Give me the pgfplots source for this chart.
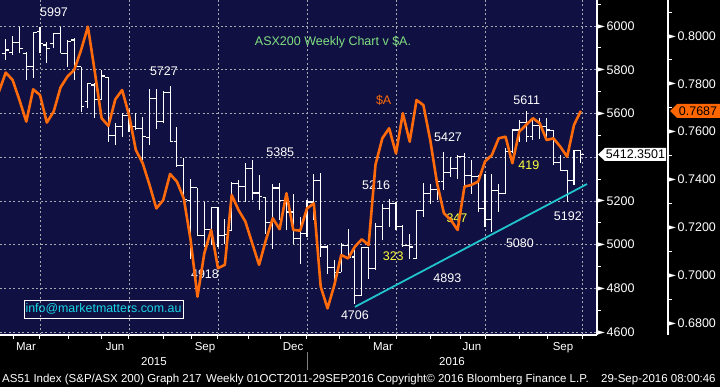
\documentclass[border=0pt]{standalone}
\usepackage{pgfplots}
\usepackage{pgfplotstable}
\usepackage{graphicx}
\pgfplotsset{compat=1.18}
\usepackage{fontspec}
\setmainfont{Liberation Sans}
\newfontfamily\dejavu{DejaVu Sans}
\definecolor{navybg}{HTML}{101042}
\definecolor{gridgray}{HTML}{A8A8B0}
\definecolor{audorange}{HTML}{FF6A0A}
\definecolor{trendcyan}{HTML}{20C4CC}
\definecolor{titlegreen}{HTML}{80E080}
\definecolor{labyellow}{HTML}{FFFF3C}
\definecolor{emailcyan}{HTML}{18D8E8}
\definecolor{orangebox}{HTML}{FF6600}
\pgfkeys{/pgf/number format/assume math mode=true}
\pgfdeclareplotmark{ohlcopen}{\pgfpathmoveto{\pgfqpoint{-3.4pt}{0pt}}\pgfpathlineto{\pgfqpoint{0pt}{0pt}}\pgfusepathqstroke}
\pgfdeclareplotmark{ohlcclose}{\pgfpathmoveto{\pgfqpoint{0pt}{0pt}}\pgfpathlineto{\pgfqpoint{3.4pt}{0pt}}\pgfusepathqstroke}
\newcommand{\tri}{\raisebox{2.2pt}{\scalebox{1.3}[0.75]{\dejavu\fontsize{8}{8}\selectfont ▶}}}
\pgfplotstableread{
k O H L C
0 5844 5890 5798 5882
1 5875 5939 5844 5890
2 5878 5954 5867 5924
3 5924 5997 5875 5898
4 5875 5882 5753 5814
5 5814 5974 5760 5969
6 5974 5997 5875 5920
7 5913 5928 5829 5898
8 5920 5966 5898 5966
9 5966 5997 5875 5875
10 5875 5936 5814 5928
11 5936 5943 5753 5814
12 5814 5814 5607 5630
13 5653 5737 5623 5737
14 5730 5737 5577 5664
15 5664 5798 5661 5771
16 5765 5768 5470 5501
17 5501 5554 5455 5542
18 5542 5600 5493 5592
19 5592 5615 5516 5539
20 5539 5600 5524 5531
21 5531 5585 5386 5493
22 5490 5714 5455 5669
23 5669 5714 5531 5562
24 5562 5704 5554 5695
25 5695 5727 5470 5470
26 5470 5539 5356 5360
27 5360 5394 5203 5207
28 5203 5302 4936 5261
29 5261 5261 5042 5042
30 5042 5195 4989 5068
31 5068 5172 4997 5169
32 5169 5172 4989 5042
33 5042 5119 5004 5045
34 5065 5287 5060 5279
35 5279 5294 5195 5264
36 5264 5371 5195 5348
37 5348 5386 5203 5236
38 5236 5317 5157 5218
39 5215 5218 5050 5099
40 5099 5279 4981 5259
41 5259 5282 5111 5203
42 5203 5241 5065 5149
43 5149 5233 5004 5027
44 5027 5127 4913 5050
45 5050 5203 5035 5195
46 5195 5325 5111 5294
47 5294 5328 4943 4989
48 4989 4997 4867 4897
49 4897 4928 4806 4874
50 4874 5007 4874 4997
51 4997 5073 4936 4943
52 4943 4981 4730 4768
53 4768 4989 4768 4986
54 4986 4989 4844 4890
55 4890 5099 4885 5084
56 5084 5185 5020 5165
57 5165 5210 5081 5188
58 5188 5195 5065 5081
59 5081 5088 4989 4997
60 4997 5050 4936 4989
61 4936 5157 4936 5154
62 5154 5282 5126 5233
63 5233 5279 5187 5253
64 5253 5294 5203 5287
65 5287 5424 5249 5328
66 5328 5401 5310 5348
67 5348 5409 5302 5401
68 5401 5417 5256 5317
69 5317 5389 5233 5313
70 5313 5317 5149 5165
71 5165 5325 5081 5116
72 5116 5325 5058 5249
73 5249 5279 5149 5233
74 5233 5440 5233 5424
75 5424 5531 5417 5524
76 5524 5569 5470 5557
77 5557 5611 5470 5496
78 5496 5577 5478 5546
79 5546 5577 5485 5539
80 5539 5577 5493 5524
81 5520 5524 5363 5374
82 5374 5409 5340 5340
83 5340 5340 5195 5294
84 5294 5432 5272 5429
85 5429 5432 5374 5412.35
}\asx
\pgfplotstableread{
k A
0 0.7767
1 0.7847
2 0.7816
3 0.7732
4 0.7642
5 0.7777
6 0.7753
7 0.7638
8 0.7684
9 0.7785
10 0.7830
11 0.7858
12 0.7941
13 0.8039
14 0.7851
15 0.7656
16 0.7624
17 0.7735
18 0.7774
19 0.7670
20 0.7523
21 0.7468
22 0.7377
23 0.7279
24 0.7314
25 0.7423
26 0.7391
27 0.7321
28 0.7147
29 0.6910
30 0.7091
31 0.7189
32 0.7029
33 0.7043
34 0.7335
35 0.7272
36 0.7224
37 0.7133
38 0.7043
39 0.7147
40 0.7238
41 0.7192
42 0.7342
43 0.7189
44 0.7186
45 0.7279
46 0.7300
47 0.6952
48 0.6861
49 0.6959
50 0.7084
51 0.7070
52 0.7119
53 0.7150
54 0.7126
55 0.7461
56 0.7572
57 0.7614
58 0.7509
59 0.7677
60 0.7558
61 0.7732
62 0.7711
63 0.7565
64 0.7384
65 0.7259
66 0.7231
67 0.7189
68 0.7370
69 0.7377
70 0.7391
71 0.7475
72 0.7502
73 0.7572
74 0.7579
75 0.7468
76 0.7600
77 0.7628
78 0.7656
79 0.7635
80 0.7565
81 0.7572
82 0.7537
83 0.7495
84 0.7628
85 0.7687
}\aud
\begin{document}
\begin{tikzpicture}[x=1pt,y=1pt]
\fill[black] (0,0) rectangle (720,387);
\begin{axis}[
  at={(0pt,52pt)}, anchor=south west, width=597pt, height=335pt, scale only axis,
  xmin=0.158, xmax=87.36, ymin=4586.4, ymax=6118.9, enlargelimits=false,
  axis background/.style={fill=navybg},
  axis x line*=bottom, axis y line*=right,
  axis line style={white, line width=1.2pt},
  clip mode=individual,
  tick align=outside,
  major tick length=0pt, minor tick length=4pt,
  tick style={white, line width=1pt},
  xtick={3.96,16.96,30.1,42.96,56.1,69.1,82.4},
  xticklabels={Mar,Jun,Sep,Dec,Mar,Jun,Sep},
  minor xtick={2.1,6.0,10.1,15.0,19.0,24.0,28.2,32.0,36.4,41.1,45.0,49.8,54.1,58.0,63.0,67.4,71.0,76.1,80.2,85.2},
  extra x ticks={6.0,19.0,32.0,45.0,58.1,71.0,85.2},
  extra x tick labels={},
  extra x tick style={grid=major},
  ytick={4600,4800,5000,5200,5600,5800,6000},
  extra y ticks={5400},
  extra y tick labels={},
  extra y tick style={grid=major},
  minor ytick={4700,4900,...,6100},
  ymajorgrids,
  grid style={gridgray, dash pattern=on 2pt off 2.5pt, line width=0.7pt},
  x tick label style={white, font=\fontsize{11.5}{13}\selectfont, anchor=base, inner sep=0pt, yshift=-16pt},
  y tick label style={white, font=\fontsize{12.5}{14}\selectfont, anchor=west, inner sep=0pt},
  yticklabel={\tri\hspace{1.5pt}\pgfmathprintnumber[fixed,precision=0,1000 sep={}]{\tick}},
]
\addplot[draw=none, mark=none, forget plot, error bars/.cd, y dir=plus, y explicit, error mark=none, error bar style={draw=white, line width=1.1pt}]
  table[x=k, y=L, y error expr=\thisrow{H}-\thisrow{L}]{\asx};
\addplot[only marks, mark=ohlcopen, mark options={draw=white, line width=1.1pt}] table[x=k, y=O]{\asx};
\addplot[only marks, mark=ohlcclose, mark options={draw=white, line width=1.1pt}] table[x=k, y=C]{\asx};
\addplot[trendcyan, line width=1.8pt] coordinates {(52.0,4715) (85.9,5277)};
\begin{scope}[every node/.style={white, font=\fontsize{12.5}{14}\selectfont}]
\node at (axis cs:8.05,6064) {5997};
\node at (axis cs:24.1,5794) {5727};
\node at (axis cs:41.1,5424) {5385};
\node at (axis cs:30.1,4866) {4918};
\node at (axis cs:55.1,5273) {5216};
\node at (axis cs:52.0,4678) {4706};
\node at (axis cs:65.5,4847) {4893};
\node at (axis cs:65.6,5492) {5427};
\node at (axis cs:76.1,5007) {5080};
\node at (axis cs:77.1,5661) {5611};
\node at (axis cs:83.1,5131) {5192};
\node[labyellow] at (axis cs:57.6,4948) {323};
\node[labyellow] at (axis cs:66.9,5122) {347};
\node[labyellow] at (axis cs:77.4,5364) {419};
\node[audorange] at (axis cs:56.2,5661) {\$A};
\node[titlegreen] at (axis cs:48.8,5927) {ASX200 Weekly Chart v \$A.};
\end{scope}
\end{axis}
\begin{axis}[
  at={(0pt,52pt)}, anchor=south west, width=668pt, height=335pt, scale only axis,
  xmin=0.158, xmax=97.73, ymin=0.67497, ymax=0.81505, enlargelimits=false,
  axis x line=none, axis y line*=right,
  axis line style={white, line width=1.2pt},
  tick align=outside,
  major tick length=0pt, minor tick length=4pt,
  tick style={white, line width=1pt},
  ytick={0.68,0.70,0.72,0.74,0.76,0.78,0.80},
  minor ytick={0.69,0.71,0.73,0.75,0.77,0.79,0.81},
  y tick label style={white, font=\fontsize{12.5}{14}\selectfont, anchor=west, inner sep=0pt},
  yticklabel={\tri\hspace{1.5pt}\pgfmathprintnumber[fixed,fixed zerofill,precision=4]{\tick}},
]
\addplot[audorange, line width=2.6pt, line join=round] table[x=k, y=A]{\aud};
\end{axis}
% value boxes
\fill[white] (598,232.5) -- (605,239) -- (666,239) -- (666,226) -- (605,226) -- cycle;
\node[black, font=\fontsize{12.5}{14}\selectfont] at (635.5,232.5) {5412.3501};
\fill[orangebox] (670,276) -- (677,283) -- (720,283) -- (720,269) -- (677,269) -- cycle;
\node[black, font=\fontsize{12.5}{14}\selectfont] at (698,276) {0.7687};
% email box
\node[draw=white, line width=0.9pt, text=emailcyan, font=\fontsize{12.4}{14}\selectfont, minimum width=159pt, minimum height=18pt, inner sep=0pt] at (103.5,78) {info@marketmatters.com.au};
% years
\draw[gray, line width=1pt] (307,35) -- (307,17);
\node[white, anchor=base, font=\fontsize{11.5}{13}\selectfont] at (154,21) {2015};
\node[white, anchor=base, font=\fontsize{11.5}{13}\selectfont] at (452,21) {2016};
% footer
\begin{scope}[every node/.style={white, anchor=base west, inner sep=0pt, font=\fontsize{11.5}{13}\selectfont}]
\node at (2,4) {AS51 Index (S\&P/ASX 200) Graph 217};
\node at (206,4) {Weekly 01OCT2011-29SEP2016};
\node at (377,4) {Copyright© 2016 Bloomberg Finance L.P.};
\node at (601,4) {29-Sep-2016 08:00:46};
\end{scope}
\pgfresetboundingbox
\useasboundingbox (0,0) rectangle (720,387);
\end{tikzpicture}
\end{document}
